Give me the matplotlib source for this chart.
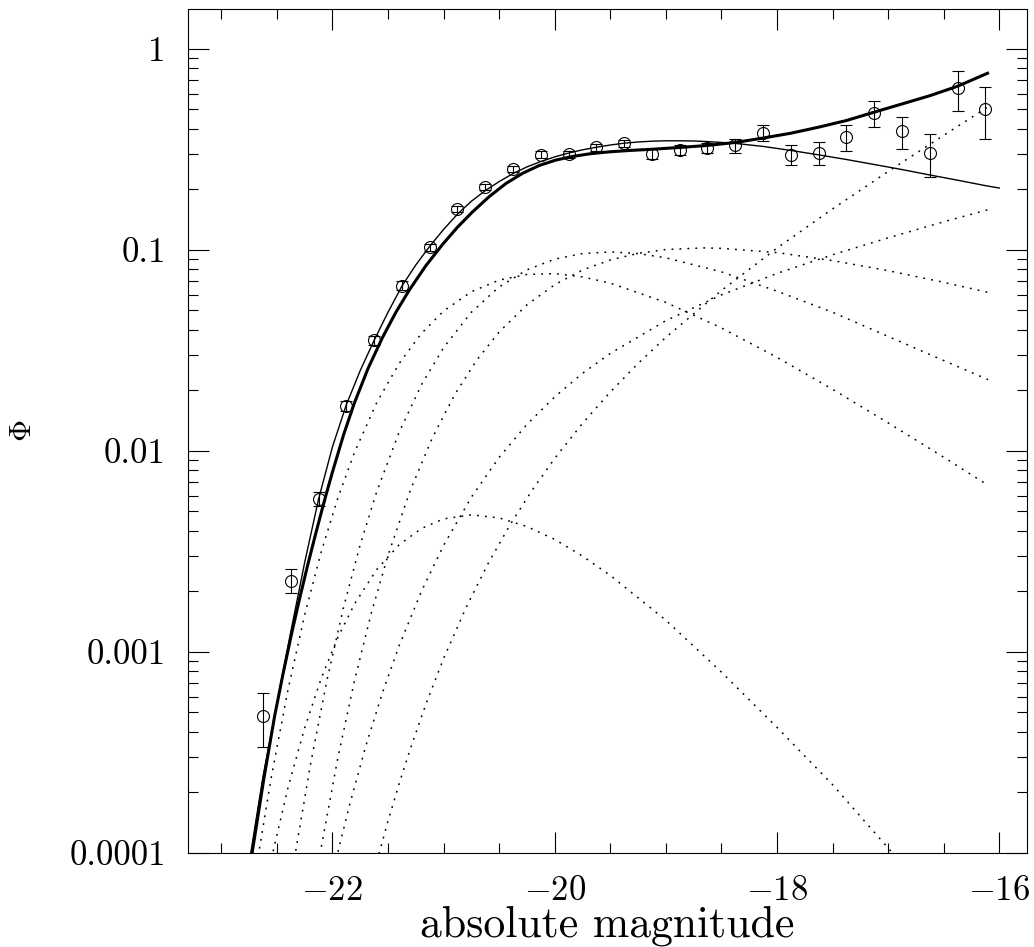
import numpy as np
import matplotlib
matplotlib.use('Agg')
import matplotlib.pyplot as plt
from matplotlib.ticker import FixedLocator, FixedFormatter, MultipleLocator, NullFormatter

plt.rcParams['font.family'] = 'serif'
plt.rcParams['font.serif'] = ['cmr10']
plt.rcParams['mathtext.fontset'] = 'cm'
plt.rcParams['axes.formatter.use_mathtext'] = True

# binned luminosity function with asymmetric errors
mag = [-22.625, -22.375, -22.125, -21.875, -21.625, -21.375, -21.125, -20.875,
       -20.625, -20.375, -20.125, -19.875, -19.625, -19.375, -19.125, -18.875,
       -18.625, -18.375, -18.125, -17.875, -17.625, -17.375, -17.125, -16.875,
       -16.625, -16.375, -16.125]
phi = [4.8e-4, 2.25e-3, 5.78e-3, 0.0168, 0.0357, 0.0665, 0.103, 0.160,
       0.206, 0.253, 0.298, 0.299, 0.324, 0.340, 0.300, 0.313,
       0.321, 0.331, 0.383, 0.298, 0.305, 0.365, 0.481, 0.390,
       0.304, 0.638, 0.502]
phi_lo = [3.36e-4, 1.97e-3, 5.31e-3, 0.0158, 0.0338, 0.063, 0.099, 0.154,
          0.199, 0.244, 0.287, 0.288, 0.311, 0.326, 0.283, 0.295,
          0.302, 0.305, 0.349, 0.265, 0.264, 0.312, 0.410, 0.318,
          0.230, 0.492, 0.356]
phi_hi = [6.25e-4, 2.6e-3, 6.24e-3, 0.0178, 0.0375, 0.070, 0.107, 0.166,
          0.213, 0.262, 0.309, 0.311, 0.337, 0.354, 0.318, 0.332,
          0.341, 0.357, 0.418, 0.333, 0.345, 0.416, 0.550, 0.461,
          0.376, 0.780, 0.645]

# single-function fit (log10 phi)
fit_mag = [-22.77, -22.735, -22.625, -22.5, -22.375, -22.25, -22.125, -22.0,
           -21.875, -21.75, -21.625, -21.5, -21.375, -21.25, -21.125, -21.0,
           -20.875, -20.75, -20.625, -20.5, -20.375, -20.25, -20.125, -20.0,
           -19.875, -19.75, -19.625, -19.5, -19.375, -19.25, -19.125, -19.0,
           -18.875, -18.75, -18.625, -18.5, -18.375, -18.125, -17.875, -17.625,
           -17.375, -17.125, -16.875, -16.625, -16.375, -16.125, -16.0]
fit_log = [-4.12, -4.0, -3.62, -3.26, -2.90, -2.555, -2.24, -1.98,
           -1.77, -1.60, -1.45, -1.31, -1.18, -1.075, -0.982, -0.898,
           -0.822, -0.758, -0.705, -0.66, -0.62, -0.587, -0.56, -0.537,
           -0.518, -0.502, -0.489, -0.478, -0.469, -0.463, -0.459, -0.457,
           -0.457, -0.458, -0.461, -0.465, -0.470, -0.485, -0.505, -0.527,
           -0.550, -0.575, -0.600, -0.627, -0.653, -0.680, -0.692]

# sum of the type-specific components (log10 phi)
tot_mag = [-22.76, -22.72, -22.62, -22.52, -22.445, -22.37, -22.3, -22.226,
           -22.15, -22.076, -22.0, -21.9, -21.805, -21.68, -21.55, -21.43,
           -21.31, -21.16, -21.01, -20.875, -20.74, -20.59, -20.44, -20.29,
           -20.14, -19.99, -19.84, -19.675, -19.51, -19.32, -19.12, -18.87,
           -18.622, -18.37, -18.121, -17.872, -17.623, -17.374, -17.122, -16.870,
           -16.62, -16.372, -16.105]
tot_log = [-4.13, -3.99, -3.64, -3.318, -3.11, -2.915, -2.745, -2.575,
           -2.41, -2.255, -2.105, -1.92, -1.765, -1.59, -1.436, -1.311,
           -1.201, -1.079, -0.973, -0.887, -0.811, -0.735, -0.670, -0.619,
           -0.580, -0.553, -0.535, -0.521, -0.512, -0.505, -0.499, -0.490,
           -0.480, -0.465, -0.443, -0.419, -0.389, -0.356, -0.314, -0.273,
           -0.232, -0.185, -0.121]

# individual components (log10 phi)
comp_a_mag = [-22.68, -22.55, -22.4, -22.25, -22.1, -21.95, -21.8, -21.6,
              -21.4, -21.2, -21.0, -20.75, -20.5, -20.25, -20.0, -19.75,
              -19.5, -19.0, -18.5, -18.0, -17.5, -17.0, -16.5, -16.1]
comp_a_log = [-4.056, -3.622, -3.188, -2.816, -2.500, -2.232, -2.005, -1.758,
              -1.565, -1.416, -1.304, -1.208, -1.150, -1.122, -1.118, -1.134,
              -1.165, -1.261, -1.388, -1.534, -1.693, -1.860, -2.031, -2.171]

comp_b_mag = [-22.33, -22.2, -22.05, -21.9, -21.75, -21.6, -21.4, -21.2,
              -21.0, -20.75, -20.5, -20.25, -20.0, -19.75, -19.5, -19.25,
              -19.0, -18.5, -18.0, -17.5, -17.0, -16.5, -16.1]
comp_b_log = [-3.989, -3.566, -3.142, -2.778, -2.466, -2.200, -1.907, -1.672,
              -1.486, -1.310, -1.184, -1.099, -1.046, -1.018, -1.010, -1.018,
              -1.039, -1.109, -1.205, -1.310, -1.430, -1.550, -1.645]

comp_c_mag = [-22.1, -21.95, -21.8, -21.65, -21.5, -21.3, -21.1, -20.9,
              -20.7, -20.5, -20.25, -20.0, -19.75, -19.5, -19.25, -19.0,
              -18.66, -18.5, -18.0, -17.5, -17.0, -16.5, -16.1]
comp_c_log = [-3.969, -3.523, -3.139, -2.806, -2.519, -2.197, -1.934, -1.720,
              -1.547, -1.408, -1.273, -1.173, -1.100, -1.050, -1.017, -0.998,
              -0.990, -0.992, -1.013, -1.053, -1.103, -1.161, -1.211]

comp_d_mag = [-22.55, -22.4, -22.25, -22.1, -21.95, -21.8, -21.6, -21.4,
              -21.2, -21.0, -20.75, -20.5, -20.25, -20.0, -19.75, -19.5,
              -19.0, -18.5, -18.0, -17.5, -17.0, -16.9]
comp_d_log = [-4.030, -3.675, -3.378, -3.130, -2.926, -2.760, -2.589, -2.467,
              -2.386, -2.338, -2.318, -2.333, -2.376, -2.440, -2.523, -2.619,
              -2.842, -3.100, -3.375, -3.660, -3.975, -4.04]

comp_e_mag = [-21.6, -21.5, -21.4, -21.3, -21.15, -21.0, -20.8, -20.6,
              -20.4, -20.2, -20.0, -19.75, -19.5, -19.25, -19.0, -18.5,
              -18.0, -17.5, -17.0, -16.5, -16.1]
comp_e_log = [-4.042, -3.841, -3.656, -3.483, -3.246, -3.033, -2.782, -2.561,
              -2.366, -2.193, -2.037, -1.863, -1.707, -1.565, -1.435, -1.202,
              -0.991, -0.796, -0.610, -0.430, -0.288]

comp_f_mag = [-21.95, -21.85, -21.7, -21.55, -21.4, -21.2, -21.0, -20.75,
              -20.5, -20.25, -20.0, -19.75, -19.5, -19.0, -18.5, -18.0,
              -17.5, -17.0, -16.5, -16.1]
comp_f_log = [-3.994, -3.770, -3.468, -3.203, -2.969, -2.699, -2.470, -2.230,
              -2.032, -1.868, -1.731, -1.614, -1.515, -1.352, -1.224, -1.117,
              -1.024, -0.940, -0.860, -0.800]

components = [(comp_a_mag, comp_a_log), (comp_b_mag, comp_b_log),
              (comp_c_mag, comp_c_log), (comp_d_mag, comp_d_log),
              (comp_e_mag, comp_e_log), (comp_f_mag, comp_f_log)]

ytick_vals = [1e-4, 1e-3, 1e-2, 1e-1, 1]
ytick_labels = ['0.0001', '0.001', '0.01', '0.1', '1']

fig = plt.figure(figsize=(10.34, 9.47), dpi=100)
ax = fig.add_axes([0.1818, 0.0993, 0.8114, 0.8912])

for cm, cl in components:
    ax.plot(cm, 10 ** np.array(cl), color='black', lw=1.1,
            linestyle=(0, (1.2, 4.0)))

ax.plot(fit_mag, 10 ** np.array(fit_log), color='black', lw=1.0)
ax.plot(tot_mag, 10 ** np.array(tot_log), color='black', lw=2.2)

phi_arr = np.array(phi)
yerr = [phi_arr - np.array(phi_lo), np.array(phi_hi) - phi_arr]
ax.errorbar(mag, phi, yerr=yerr, fmt='o', mfc='none', mec='black', ms=8.6,
            mew=0.8, ecolor='black', elinewidth=0.8, capsize=4.5, capthick=0.8)

ax.set_yscale('log')
ax.set_xlim(-23.3, -15.75)
ax.set_ylim(1e-4, 1.58)

ax.yaxis.set_major_locator(FixedLocator(ytick_vals))
ax.yaxis.set_major_formatter(FixedFormatter(ytick_labels))
ax.yaxis.set_minor_formatter(NullFormatter())
ax.xaxis.set_major_locator(MultipleLocator(2))
ax.xaxis.set_minor_locator(MultipleLocator(0.5))

ax.tick_params(which='both', direction='in', top=True, right=True,
               labelsize=25, width=0.8, pad=16)
ax.tick_params(which='major', length=15)
ax.tick_params(which='minor', length=7.5)
for sp in ax.spines.values():
    sp.set_linewidth(0.8)

ax.set_xlabel('absolute magnitude', fontsize=31.5)
ax.set_ylabel(r'$\Phi$', fontsize=22)
ax.xaxis.set_label_coords(0.5, -0.0625)
ax.yaxis.set_label_coords(-0.18, 0.5)

fig.savefig('out.png', dpi=100)
